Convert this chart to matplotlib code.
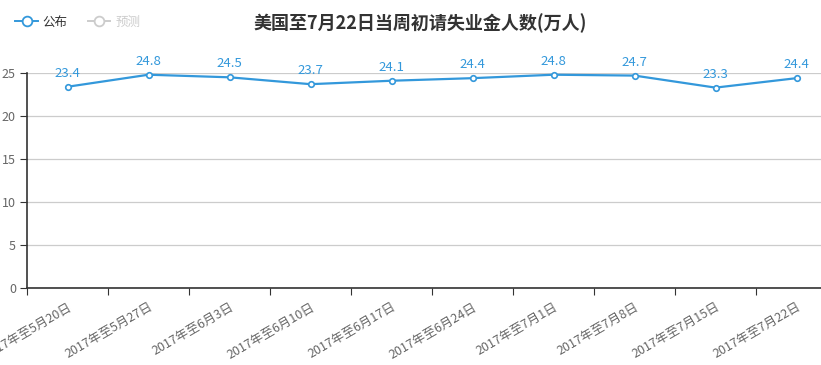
import matplotlib
matplotlib.use('Agg')
import matplotlib.pyplot as plt
from matplotlib.lines import Line2D

plt.rcParams['font.family'] = ['Noto Sans CJK SC', 'DejaVu Sans']

weeks = ['2017年至5月20日', '2017年至5月27日', '2017年至6月3日', '2017年至6月10日',
         '2017年至6月17日', '2017年至6月24日', '2017年至7月1日', '2017年至7月8日',
         '2017年至7月15日', '2017年至7月22日']
published = [23.4, 24.8, 24.5, 23.7, 24.1, 24.4, 24.8, 24.7, 23.3, 24.4]
yticks = [0, 5, 10, 15, 20, 25]

W, H = 821, 365
blue = '#3398db'

fig = plt.figure(figsize=(W / 100, H / 100), dpi=100)
ax = fig.add_axes([27 / W, (H - 288) / H, 810 / W, 215 / H])

x = list(range(len(weeks)))
ax.plot(x, published, color=blue, lw=1.6, marker='o', ms=4,
        mfc='white', mec=blue, mew=1.2, zorder=3, clip_on=False)
for xi, v in zip(x, published):
    ax.annotate(f'{v}', (xi, v), xytext=(0, 5), textcoords='offset points',
                ha='center', va='bottom', color=blue, fontsize=9.5)

ax.set_xlim(-0.5, len(weeks) - 0.5)
ax.set_ylim(0, 25)
ax.set_yticks(yticks)
# ticks sit between categories, labels under the points
ax.set_xticks([i - 0.5 for i in range(len(weeks))], minor=False)
ax.set_xticklabels([])
ax.set_xticks(x, minor=True)
ax.set_xticklabels(weeks, minor=True, rotation=30, ha='right',
                   rotation_mode='anchor', color='#666666', fontsize=9)
ax.tick_params(axis='x', which='minor', length=0, pad=9)
ax.tick_params(axis='x', which='major', length=5, color='#333333')
ax.tick_params(axis='y', length=5, color='#333333', labelcolor='#666666',
               labelsize=9, pad=3)

ax.grid(axis='y', color='#cccccc', lw=0.9)
ax.set_axisbelow(True)
for s in ['top', 'right']:
    ax.spines[s].set_visible(False)
for s in ['left', 'bottom']:
    ax.spines[s].set_color('#333333')
    ax.spines[s].set_linewidth(1.2)

fig.text(420 / W, 1 - 23 / H, '美国至7月22日当周初请失业金人数(万人)',
         ha='center', va='center', fontsize=13, fontweight='bold', color='#333333')

handles = [
    Line2D([], [], color=blue, lw=1.4, marker='o', ms=7, mfc='white', mec=blue, mew=1.3),
    Line2D([], [], color='#cccccc', lw=1.4, marker='o', ms=7, mfc='white', mec='#cccccc', mew=1.3),
]
leg = fig.legend(handles, ['公布', '预测'], loc='center left',
                 bbox_to_anchor=(4 / W, 1 - 22 / H), ncol=2, frameon=False,
                 fontsize=9, handlelength=1.8, handletextpad=0.4, columnspacing=1.6)
leg.get_texts()[0].set_color('#333333')
leg.get_texts()[1].set_color('#cccccc')

fig.savefig('out.png', dpi=100)
